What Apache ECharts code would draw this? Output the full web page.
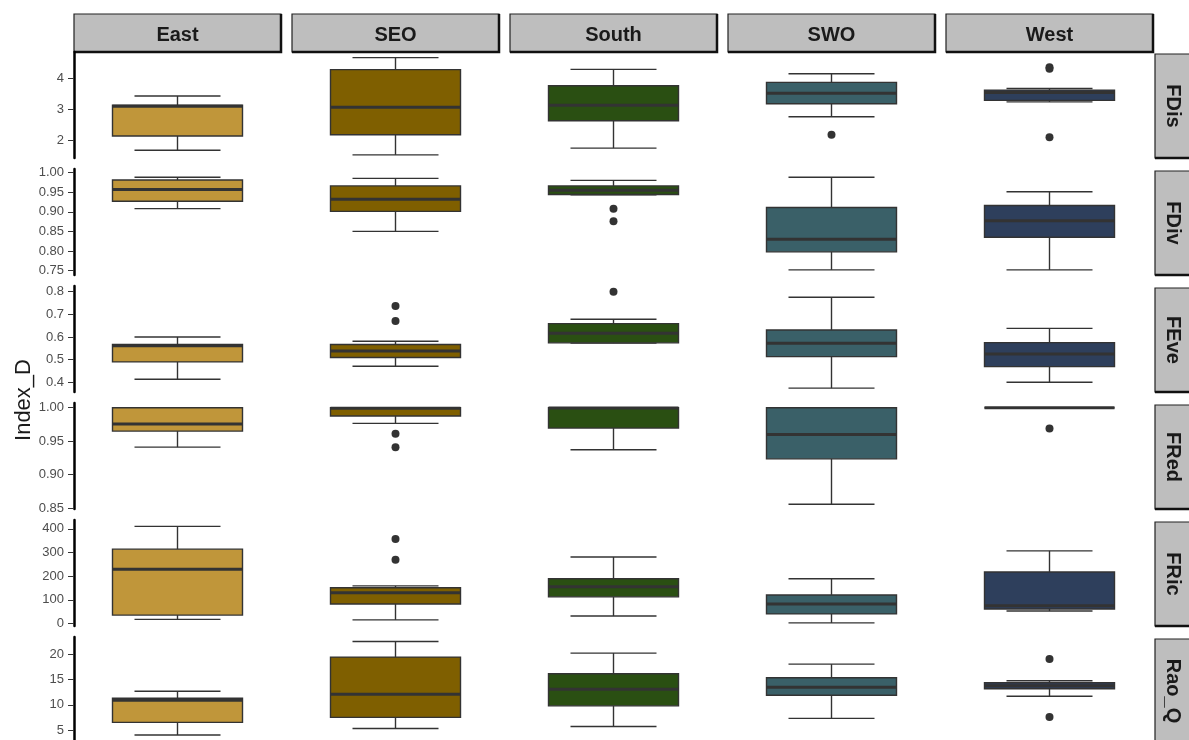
<!DOCTYPE html>
<html>
<head>
<meta charset="utf-8">
<script src="https://cdn.jsdelivr.net/npm/echarts@6/dist/echarts.min.js"></script>
<style>
  html, body { margin: 0; padding: 0; background: #fff; }
  #main { width: 1189px; height: 740px; }
</style>
</head>
<body>
<div id="main"></div>
<script>
// facets
const regions = ['East', 'SEO', 'South', 'SWO', 'West'];
const indexNames = ['FDis', 'FDiv', 'FEve', 'FRed', 'FRic', 'Rao_Q'];

// per region: lower whisker, Q1, median, Q3, upper whisker
const fdisBox = [[1.68, 2.14, 3.10, 3.13, 3.43], [1.53, 2.18, 3.07, 4.28, 4.67], [1.75, 2.63, 3.13, 3.76, 4.29], [2.76, 3.18, 3.52, 3.87, 4.15], [3.24, 3.29, 3.54, 3.62, 3.67]];
const fdivBox = [[0.908, 0.927, 0.957, 0.981, 0.988], [0.850, 0.901, 0.932, 0.966, 0.985], [0.943, 0.944, 0.955, 0.966, 0.980], [0.752, 0.798, 0.830, 0.911, 0.988], [0.752, 0.835, 0.877, 0.916, 0.951]];
const feveBox = [[0.413, 0.490, 0.561, 0.567, 0.600], [0.471, 0.509, 0.538, 0.567, 0.581], [0.573, 0.574, 0.616, 0.659, 0.678], [0.374, 0.513, 0.572, 0.631, 0.775], [0.400, 0.469, 0.525, 0.575, 0.638]];
const fredBox = [[0.941, 0.965, 0.9755, 1.0, 1.0], [0.9765, 0.9875, 0.999, 1.0, 1.0], [0.937, 0.9695, 0.9995, 1.0, 1.0], [0.8555, 0.9235, 0.960, 1.0, 1.0], [1.0, 1.0, 1.0, 1.0, 1.0]];
const fricBox = [[18, 36, 229, 314, 410], [16, 83, 130, 151, 159], [32, 113, 155, 189, 281], [3, 41, 83, 121, 189], [53, 62, 75, 218, 307]];
const raoqBox = [[4.0, 6.5, 10.9, 11.3, 12.7], [5.3, 7.5, 12.1, 19.5, 22.6], [5.7, 9.8, 13.1, 16.2, 20.3], [7.3, 11.9, 13.5, 15.4, 18.1], [11.7, 13.2, 13.8, 14.4, 14.8]];

// outliers per region
const fdisOut = [[], [], [], [2.18], [4.36, 4.31, 2.10]];
const fdivOut = [[], [], [0.908, 0.876], [], []];
const feveOut = [[], [0.737, 0.671], [0.800], [], []];
const fredOut = [[], [0.961, 0.941], [], [], [0.969]];
const fricOut = [[], [357, 269], [], [], []];
const raoqOut = [[], [], [], [], [19.1, 7.6]];

// y axis limits and tick labels per row
const fdisRange = [1.43, 4.85];
const fdivRange = [0.739, 1.009];
const feveRange = [0.357, 0.825];
const fredRange = [0.8485, 1.007];
const fricRange = [-10, 437];
const raoqRange = [3.0, 23.5];

const fdisTicks = ['2', '3', '4'];
const fdivTicks = ['0.75', '0.80', '0.85', '0.90', '0.95', '1.00'];
const feveTicks = ['0.4', '0.5', '0.6', '0.7', '0.8'];
const fredTicks = ['0.85', '0.90', '0.95', '1.00'];
const fricTicks = ['0', '100', '200', '300', '400'];
const raoqTicks = ['5', '10', '15', '20'];

const rowBoxes = [fdisBox, fdivBox, feveBox, fredBox, fricBox, raoqBox];
const rowOuts = [fdisOut, fdivOut, feveOut, fredOut, fricOut, raoqOut];
const rowRanges = [fdisRange, fdivRange, feveRange, fredRange, fricRange, raoqRange];
const rowTicks = [fdisTicks, fdivTicks, feveTicks, fredTicks, fricTicks, raoqTicks];

const regionColors = ['#C0963A', '#7F5F00', '#2A4F12', '#3A6068', '#2E3F5C'];

// panel layout (px)
const panelLeft = 74, panelW = 207, panelStepX = 218;
const panelTop = 52, panelH = 106, panelStepY = 117;
const boxHalf = 65, capHalf = 43;

const chart = echarts.init(document.getElementById('main'));

function makeRender(color) {
	return function (params, api) {
		const x = api.value(0);
		const low = api.coord([x, api.value(1)]);
		const q1 = api.coord([x, api.value(2)]);
		const med = api.coord([x, api.value(3)]);
		const q3 = api.coord([x, api.value(4)]);
		const high = api.coord([x, api.value(5)]);
		const cx = low[0];
		const ln = { stroke: '#333', lineWidth: 1.4 };
		return {
			type: 'group',
			children: [
				{ type: 'line', shape: { x1: cx, y1: high[1], x2: cx, y2: q3[1] }, style: ln },
				{ type: 'line', shape: { x1: cx, y1: q1[1], x2: cx, y2: low[1] }, style: ln },
				{ type: 'line', shape: { x1: cx - capHalf, y1: high[1], x2: cx + capHalf, y2: high[1] }, style: ln },
				{ type: 'line', shape: { x1: cx - capHalf, y1: low[1], x2: cx + capHalf, y2: low[1] }, style: ln },
				{
					type: 'rect',
					shape: { x: cx - boxHalf, y: q3[1], width: boxHalf * 2, height: q1[1] - q3[1] },
					style: { fill: color, stroke: '#333', lineWidth: 1.4 }
				},
				{ type: 'line', shape: { x1: cx - boxHalf, y1: med[1], x2: cx + boxHalf, y2: med[1] }, style: { stroke: '#333', lineWidth: 3 } }
			]
		};
	};
}

const grids = [], xAxes = [], yAxes = [], series = [], graphics = [];

for (let i = 0; i < indexNames.length; i++) {
	const ticks = rowTicks[i];
	const dec = ticks[0].indexOf('.') >= 0 ? ticks[0].split('.')[1].length : 0;
	for (let j = 0; j < regions.length; j++) {
		const k = i * regions.length + j;
		grids.push({
			left: panelLeft + j * panelStepX,
			top: panelTop + i * panelStepY,
			width: panelW,
			height: panelH
		});
		xAxes.push({ type: 'category', gridIndex: k, data: [regions[j]], show: false });
		yAxes.push({
			type: 'value',
			gridIndex: k,
			min: rowRanges[i][0],
			max: rowRanges[i][1],
			show: j === 0,
			axisLine: { show: true, lineStyle: { color: '#000', width: 2.5 } },
			axisTick: { show: true, length: 6, lineStyle: { color: '#333', width: 1 }, customValues: ticks.map(Number) },
			axisLabel: {
				color: '#4D4D4D', fontSize: 13, margin: 10, fontFamily: 'Liberation Sans',
				customValues: ticks.map(Number),
				formatter: v => v.toFixed(dec)
			},
			splitLine: { show: false }
		});
		series.push({
			type: 'custom',
			xAxisIndex: k,
			yAxisIndex: k,
			renderItem: makeRender(regionColors[j]),
			data: [[0].concat(rowBoxes[i][j])],
			z: 2
		});
		series.push({
			type: 'scatter',
			xAxisIndex: k,
			yAxisIndex: k,
			symbolSize: 8,
			itemStyle: { color: '#333', opacity: 1 },
			data: rowOuts[i][j].map(v => [0, v]),
			z: 3
		});
	}
	// right strip
	const ty = panelTop + i * panelStepY;
	graphics.push({
		type: 'rect', shape: { x: 1155, y: ty + 2, width: 40, height: panelH - 2 },
		style: { fill: '#BEBEBE', stroke: '#222', lineWidth: 1.2 }
	});
	graphics.push({
		type: 'line', shape: { x1: 1155, y1: ty + panelH, x2: 1195, y2: ty + panelH },
		style: { stroke: '#111', lineWidth: 2.5 }
	});
	graphics.push({
		type: 'text', x: 1173, y: ty + panelH / 2 + 1, rotation: -Math.PI / 2,
		style: { text: indexNames[i], fill: '#1a1a1a', font: 'bold 20px "Liberation Sans"', align: 'center', verticalAlign: 'middle' }
	});
}

// top strips
for (let j = 0; j < regions.length; j++) {
	const sx = panelLeft + j * panelStepX;
	graphics.push({
		type: 'rect', shape: { x: sx, y: 14, width: panelW, height: 38 },
		style: { fill: '#BEBEBE', stroke: '#222', lineWidth: 1.2 }
	});
	graphics.push({
		type: 'polyline', shape: { points: [[sx + panelW, 14], [sx + panelW, 52], [sx, 52]] },
		style: { stroke: '#111', lineWidth: 2.5, fill: null }
	});
	graphics.push({
		type: 'text', x: sx + panelW / 2, y: 35,
		style: { text: regions[j], fill: '#1a1a1a', font: 'bold 20px "Liberation Sans"', align: 'center', verticalAlign: 'middle' }
	});
}

// y title
graphics.push({
	type: 'text', x: 24, y: 400, rotation: Math.PI / 2,
	style: { text: 'Index_D', fill: '#1a1a1a', font: '22px "Liberation Sans"', align: 'center', verticalAlign: 'middle' }
});

chart.setOption({
	animation: false,
	backgroundColor: '#fff',
	grid: grids,
	xAxis: xAxes,
	yAxis: yAxes,
	series: series,
	graphic: graphics
});
</script>
</body>
</html>
